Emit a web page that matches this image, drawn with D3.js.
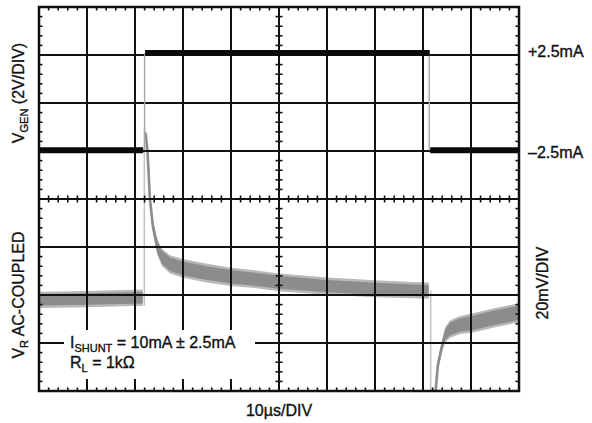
<!DOCTYPE html>
<html>
<head>
<meta charset="utf-8">
<script src="https://cdn.jsdelivr.net/npm/d3@7"></script>
<style>
  body { margin: 0; background: #fff; }
  text { font-family: "Liberation Sans", Arial, Helvetica, sans-serif; fill: #111; stroke: #111; stroke-width: 0.35px; }
</style>
</head>
<body>
<div id="scope"></div>
<script>
// generator current (top trace), time in us, current in mA
var genStart = [0, 22.1, 81.5];
var genEnd = [21.7, 81.4, 100];
var genLevel = [-2.46, 2.6, -2.46];
var genEdgeTime = [22.0, 81.3];

// V_R, ac-coupled (bottom trace), time in us, mV; segments split at the edges
var vrSegments = [
    { time: [0, 10, 21.6],
      mid: [-2.0, -1.7, -1.1],
      spread: [2.4, 2.4, 2.4] },
    { time: [22.2, 22.6, 23.1, 23.7, 24.6, 25.6, 27.3, 30, 35, 40, 45, 50, 60, 70, 78, 81.2],
      mid: [67.7, 60.2, 40.2, 29.0, 20.3, 15.7, 12.8, 11.1, 9.1, 7.6, 6.6, 5.3, 3.7, 2.6, 2.0, 1.8],
      spread: [0.8, 1.2, 1.6, 2.0, 2.4, 2.6, 2.8, 2.9, 2.9, 2.8, 2.7, 2.7, 2.6, 2.5, 2.4, 2.4] },
    { time: [82.4, 83.1, 84, 84.6, 85.6, 87.7, 90.2, 94.6, 100],
      mid: [-45, -29.2, -20.9, -16.7, -14.2, -12.5, -11.7, -9.6, -7.4],
      spread: [0.8, 1.2, 1.6, 2.2, 2.6, 2.8, 3.0, 3.0, 3.0] }
];
var vrEdges = [
    { time: 21.95, from: -4.5, to: 70 },
    { time: 81.6, from: 1.8, to: -45 }
];

var xDivs = 10, yDivs = 8, minorPerDiv = 5;

var margin = {top: 7, left: 39},
    width = 480,
    height = 384;

var svg = d3.select("#scope").append("svg")
    .attr("width", 592)
    .attr("height", 423);

var xScale = d3.scaleLinear().domain([0, 100]).range([margin.left, margin.left + width]);
var yDiv = d3.scaleLinear().domain([0, yDivs]).range([margin.top + height, margin.top]);
var yGen = d3.scaleLinear().domain([-15, 5]).range([margin.top + height, margin.top]);
var yVr = d3.scaleLinear().domain([-40, 120]).range([margin.top + height, margin.top]);

svg.append("defs").append("clipPath")
    .attr("id", "clip")
  .append("rect")
    .attr("x", margin.left)
    .attr("y", margin.top)
    .attr("width", width)
    .attr("height", height);

// ---- gray trace (under the grid)
var vr = svg.append("g").attr("clip-path", "url(#clip)");

vrSegments.forEach(function(seg) {
    var pts = seg.time.map(function(t, i) {
        return {t: t, mid: seg.mid[i], s: seg.spread[i]};
    });
    var outer = d3.area()
        .x(function(d) { return xScale(d.t); })
        .y0(function(d) { return yVr(d.mid - d.s - 1.0); })
        .y1(function(d) { return yVr(d.mid + d.s + 1.0); });
    var inner = d3.area()
        .x(function(d) { return xScale(d.t); })
        .y0(function(d) { return yVr(d.mid - d.s); })
        .y1(function(d) { return yVr(d.mid + d.s); });
    var mid = d3.line()
        .x(function(d) { return xScale(d.t); })
        .y(function(d) { return yVr(d.mid); });
    vr.append("path").attr("d", outer(pts)).style("fill", "#b8b8b8");
    vr.append("path").attr("d", inner(pts)).style("fill", "#8c8c8c");
    vr.append("path").attr("d", mid(pts))
        .style("fill", "none").style("stroke", "#8c8c8c").style("stroke-width", 2.6);
});

vr.selectAll(".vr-edge")
    .data(vrEdges)
  .enter().append("line")
    .attr("class", "vr-edge")
    .attr("x1", function(d) { return xScale(d.time); })
    .attr("x2", function(d) { return xScale(d.time); })
    .attr("y1", function(d) { return yVr(d.from); })
    .attr("y2", function(d) { return yVr(d.to); })
    .style("stroke", "#c4c4c4")
    .style("stroke-width", 1.6);

// ---- grid
var grid = svg.append("g").attr("class", "grid");

grid.selectAll(".vgrid")
    .data(d3.range(1, xDivs))
  .enter().append("line")
    .attr("x1", function(d) { return xScale(d * 10); })
    .attr("x2", function(d) { return xScale(d * 10); })
    .attr("y1", yDiv(0))
    .attr("y2", yDiv(yDivs))
    .style("stroke", "#111")
    .style("stroke-width", 2);

grid.selectAll(".hgrid")
    .data(d3.range(1, yDivs))
  .enter().append("line")
    .attr("x1", xScale(0))
    .attr("x2", xScale(100))
    .attr("y1", function(d) { return yDiv(d); })
    .attr("y2", function(d) { return yDiv(d); })
    .style("stroke", "#111")
    .style("stroke-width", 2);

// minor ticks: frame edges (inward) and both centre lines (both sides)
var xMinor = d3.range(0, xDivs * minorPerDiv + 1)
    .filter(function(i) { return i % minorPerDiv !== 0; })
    .map(function(i) { return i * 10 / minorPerDiv; });
var yMinor = d3.range(0, yDivs * minorPerDiv + 1)
    .filter(function(i) { return i % minorPerDiv !== 0; })
    .map(function(i) { return i / minorPerDiv; });

var tickLen = 3.5;
var ticks = grid.append("g").style("stroke", "#111").style("stroke-width", 1.6);

[[yDiv(yDivs), 0, tickLen], [yDiv(0), -tickLen, 0], [yDiv(yDivs / 2), -tickLen, tickLen]].forEach(function(row) {
    ticks.selectAll(null)
        .data(xMinor)
      .enter().append("line")
        .attr("x1", function(d) { return xScale(d); })
        .attr("x2", function(d) { return xScale(d); })
        .attr("y1", row[0] + row[1])
        .attr("y2", row[0] + row[2]);
});

[[xScale(0), 0, tickLen], [xScale(100), -tickLen, 0], [xScale(50), -tickLen, tickLen]].forEach(function(col) {
    ticks.selectAll(null)
        .data(yMinor)
      .enter().append("line")
        .attr("y1", function(d) { return yDiv(d); })
        .attr("y2", function(d) { return yDiv(d); })
        .attr("x1", col[0] + col[1])
        .attr("x2", col[0] + col[2]);
});

svg.append("rect")
    .attr("x", xScale(0))
    .attr("y", yDiv(yDivs))
    .attr("width", width)
    .attr("height", height)
    .style("fill", "none")
    .style("stroke", "#111")
    .style("stroke-width", 2.5);

// ---- generator trace (black)
var gen = svg.append("g").attr("clip-path", "url(#clip)");

gen.selectAll(".gen-edge")
    .data(genEdgeTime)
  .enter().append("line")
    .attr("x1", function(d) { return xScale(d); })
    .attr("x2", function(d) { return xScale(d); })
    .attr("y1", yGen(genLevel[0]))
    .attr("y2", yGen(genLevel[1]))
    .style("stroke", "#a8a8a8")
    .style("stroke-width", 1.4);

gen.selectAll(".gen-level")
    .data(genLevel)
  .enter().append("line")
    .attr("x1", function(d, i) { return xScale(genStart[i]); })
    .attr("x2", function(d, i) { return xScale(genEnd[i]); })
    .attr("y1", function(d) { return yGen(d); })
    .attr("y2", function(d) { return yGen(d); })
    .style("stroke", "#0a0a0a")
    .style("stroke-width", 6);

// ---- labels
var fs = 16, sub = 11;

svg.append("text")
    .attr("x", 528).attr("y", 57)
    .style("font-size", fs + "px")
    .text("+2.5mA");
svg.append("text")
    .attr("x", 528).attr("y", 158)
    .style("font-size", fs + "px")
    .text("\u20132.5mA");

var vg = svg.append("text")
    .attr("transform", "translate(24,93) rotate(-90)")
    .style("text-anchor", "middle")
    .style("font-size", fs + "px");
vg.append("tspan").text("V");
vg.append("tspan").attr("dy", 4).style("font-size", sub + "px").text("GEN");
vg.append("tspan").attr("dy", -4).text(" (2V/DIV)");

var vrl = svg.append("text")
    .attr("transform", "translate(24,295) rotate(-90)")
    .style("text-anchor", "middle")
    .style("font-size", fs + "px");
vrl.append("tspan").text("V");
vrl.append("tspan").attr("dy", 4).style("font-size", sub + "px").text("R");
vrl.append("tspan").attr("dy", -4).text(" AC-COUPLED");

svg.append("text")
    .attr("transform", "translate(548,283) rotate(-90)")
    .style("text-anchor", "middle")
    .style("font-size", fs + "px")
    .text("20mV/DIV");

svg.append("text")
    .attr("x", 279).attr("y", 416)
    .style("text-anchor", "middle")
    .style("font-size", fs + "px")
    .text("10\u00b5s/DIV");

svg.append("rect")
    .attr("x", 64).attr("y", 330)
    .attr("width", 191).attr("height", 49)
    .style("fill", "#fff");

var ish = svg.append("text")
    .attr("x", 70).attr("y", 348)
    .style("font-size", fs + "px");
ish.append("tspan").text("I");
ish.append("tspan").attr("dy", 4).style("font-size", sub + "px").text("SHUNT");
ish.append("tspan").attr("dy", -4).text(" = 10mA \u00b1 2.5mA");

var rl = svg.append("text")
    .attr("x", 70).attr("y", 368)
    .style("font-size", fs + "px");
rl.append("tspan").text("R");
rl.append("tspan").attr("dy", 4).style("font-size", sub + "px").text("L");
rl.append("tspan").attr("dy", -4).text(" = 1k\u03a9");
</script>
</body>
</html>
